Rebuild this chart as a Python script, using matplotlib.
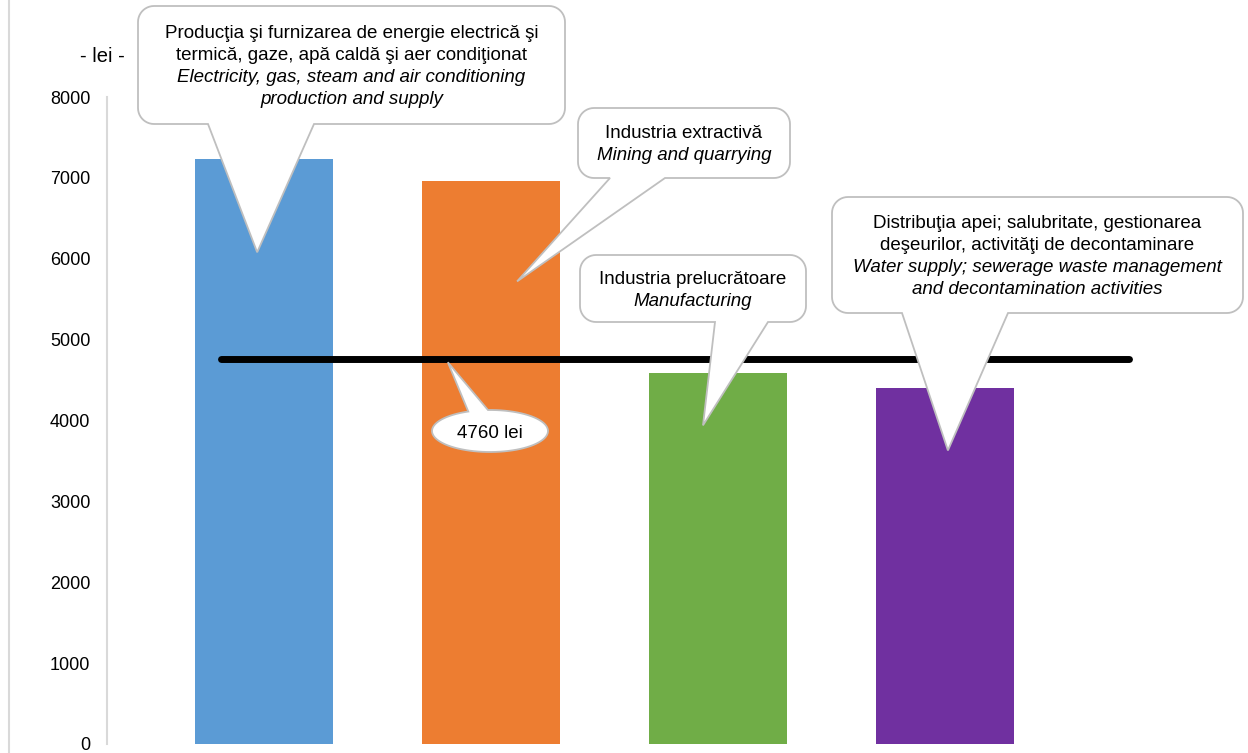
import numpy as np
import matplotlib
matplotlib.use('Agg')
import matplotlib.pyplot as plt
from matplotlib.lines import Line2D
from matplotlib.patches import Polygon

plt.rcParams['font.family'] = ['Liberation Sans', 'DejaVu Sans']

# data
labels_ro = ['Producţia şi furnizarea de energie electrică şi\ntermică, gaze, apă caldă şi aer condiţionat',
             'Industria extractivă',
             'Industria prelucrătoare',
             'Distribuţia apei; salubritate, gestionarea\ndeşeurilor, activităţi de decontaminare']
labels_en = ['Electricity, gas, steam and air conditioning\nproduction and supply',
             'Mining and quarrying',
             'Manufacturing',
             'Water supply; sewerage waste management\nand decontamination activities']
values = [7235, 6960, 4585, 4400]
colors = ['#5B9BD5', '#ED7D31', '#70AD47', '#7030A0']
average = 4760
avg_label = '4760 lei'
unit_label = '- lei -'
yticks = [0, 1000, 2000, 3000, 4000, 5000, 6000, 7000, 8000]

W, H = 1248, 753
fig = plt.figure(figsize=(W / 100, H / 100), dpi=100)
ax = fig.add_axes([107 / W, 1 - 744 / H, 1 - 107 / W, 647 / H])

x = np.arange(len(values))
ax.bar(x, values, width=0.61, color=colors, zorder=2)
ax.plot([-0.19, len(values) - 1 + 0.81], [average, average], color='black',
        lw=5, solid_capstyle='round', zorder=3)

ax.set_xlim(-0.6916, 4.335)
ax.set_ylim(0, 8000)
ax.set_yticks(yticks)
ax.set_xticks([])
ax.tick_params(axis='y', length=0, pad=12, labelsize=13, colors='black')
for s in ['top', 'right', 'bottom']:
    ax.spines[s].set_visible(False)
ax.spines['left'].set_color('#d9d9d9')
ax.spines['left'].set_linewidth(1.5)

fig.add_artist(Line2D([9 / W, 9 / W], [0, 1], color='#d9d9d9', lw=1.5))
fig.text(102 / W, 1 - 57 / H, unit_label, ha='center', va='center', fontsize=14.5)


def to_fig(pts):
    # pixel coords with origin at top left -> figure fraction
    pts = np.asarray(pts, dtype=float)
    return np.column_stack([pts[:, 0] / W, 1 - pts[:, 1] / H])


def data_px(pt):
    dx, dy = ax.transData.transform(pt)
    return dx, H - dy


def arc(cx, cy, r, a0, a1, n=12):
    t = np.radians(np.linspace(a0, a1, n))
    return [(cx + r * np.cos(a), cy - r * np.sin(a)) for a in t]


def bubble(box, base, tip, r=16):
    l, t, rt, b = box
    tx, ty = data_px(tip)
    pts = [(l + r, b), (base[0], b), (tx, ty), (base[1], b), (rt - r, b)]
    pts += arc(rt - r, b - r, r, -90, 0)
    pts += arc(rt - r, t + r, r, 0, 90)
    pts += arc(l + r, t + r, r, 90, 180)
    pts += arc(l + r, b - r, r, 180, 270)
    fig.add_artist(Polygon(to_fig(pts), closed=True, transform=fig.transFigure,
                           fc='white', ec='#bfbfbf', lw=1.3, zorder=5))


def lines_in_box(cx, y0, ro, en, step=22):
    rows = [(s, 'normal') for s in ro.split('\n')] + [(s, 'italic') for s in en.split('\n')]
    for i, (s, st) in enumerate(rows):
        fig.text(cx / W, 1 - (y0 + i * step) / H, s, ha='center', va='center',
                 fontsize=13.5, style=st, zorder=6)


boxes = [(138, 6, 565, 124), (578, 108, 790, 178), (580, 255, 806, 322), (832, 197, 1243, 313)]
bases = [(208, 314), (610, 665), (715, 768), (902, 1008)]
tips = [(-0.03, 6080), (1.115, 5720), (1.934, 3940), (3.013, 3630)]
text_y = [33, 133, 279, 224]

for i in range(len(values)):
    bubble(boxes[i], bases[i], tips[i])
    cx = (boxes[i][0] + boxes[i][2]) / 2
    lines_in_box(cx, text_y[i], labels_ro[i], labels_en[i])

# ellipse callout for the average
ecx, ecy, ea, eb = 490, 431, 58, 21
tx, ty = data_px((0.81, average - 40))
th0, th1 = 112, 92
angs = np.radians(np.linspace(th0, th1 + 360, 80))
pts = [(ecx + ea * np.cos(a), ecy - eb * np.sin(a)) for a in angs] + [(tx, ty)]
fig.add_artist(Polygon(to_fig(pts), closed=True, transform=fig.transFigure,
                       fc='white', ec='#bfbfbf', lw=1.3, zorder=5))
fig.text(ecx / W, 1 - 433 / H, avg_label, ha='center', va='center', fontsize=13.5, zorder=6)

fig.savefig('out.png', dpi=100)
